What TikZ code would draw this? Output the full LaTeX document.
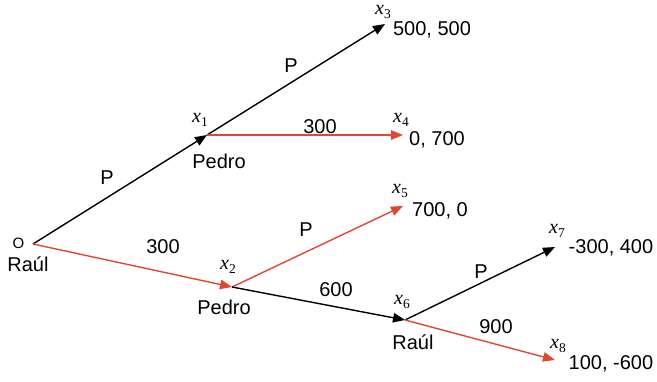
\documentclass[tikz,border=0pt]{standalone}
\usepackage{fontspec}
\setmainfont{Liberation Sans}
\newfontfamily\serifx{Liberation Serif}
\usetikzlibrary{arrows.meta}
\definecolor{tred}{RGB}{226,70,50}
\newcommand{\xlab}[1]{{\serifx\fontsize{20}{22}\selectfont\itshape x}\raisebox{-3.5pt}{\serifx\fontsize{13.5}{14}\selectfont #1}}
\begin{document}
\begin{tikzpicture}[x=1pt,y=-1pt,
  lbl/.style={inner sep=0pt,font=\fontsize{20}{22}\selectfont},
  small/.style={inner sep=0pt,font=\fontsize{15}{17}\selectfont},
  edge/.style={line width=1.4pt,-{Triangle[length=12pt,width=9.5pt]}},
  redge/.style={edge,draw=tred,-{Triangle[length=12pt,width=9.5pt,fill=tred]}},
  bedge/.style={edge,draw=black}]
\useasboundingbox (0,0) rectangle (657,381);
\coordinate (O) at (33,244);
\coordinate (x1) at (207,135);
\coordinate (x2) at (232,287);
\coordinate (x3) at (385,24);
\coordinate (x4) at (403,135);
\coordinate (x5) at (403,206);
\coordinate (x6) at (405,320);
\coordinate (x7) at (555,247);
\coordinate (x8) at (555,360);
\draw[bedge] (O) -- (x1);
\draw[redge] (O) -- (x2);
\draw[bedge] (x1) -- (x3);
\draw[redge] (x1) -- (x4);
\draw[redge] (x2) -- (x5);
\draw[bedge] (x2) -- (x6);
\draw[bedge] (x6) -- (x7);
\draw[redge] (x6) -- (x8);
\node[small] (lO) at (18.5,243) {O};
\node[lbl] (rO) at (28,264) {Raúl};
\node[lbl] (l1) at (200,120) {\xlab{1}};
\node[lbl] (p1) at (219,161) {Pedro};
\node[lbl] (l2) at (228,267) {\xlab{2}};
\node[lbl] (p2) at (224,307) {Pedro};
\node[lbl] (l3) at (383,12) {\xlab{3}};
\node[lbl] (v3) at (432,30) {500, 500};
\node[lbl] (l4) at (401,120) {\xlab{4}};
\node[lbl] (v4) at (437,140) {0, 700};
\node[lbl] (l5) at (400,191) {\xlab{5}};
\node[lbl] (v5) at (440,211) {700, 0};
\node[lbl] (l6) at (402,302) {\xlab{6}};
\node[lbl] (r6) at (413,342) {Raúl};
\node[lbl] (l7) at (557,231) {\xlab{7}};
\node[lbl] (v7) at (611,248) {-300, 400};
\node[lbl] (l8) at (558,346) {\xlab{8}};
\node[lbl] (v8) at (611,364) {100, -600};
\node[lbl] (e1) at (107,178) {P};
\node[lbl] (e2) at (291,66) {P};
\node[lbl] (e3) at (320,127) {300};
\node[lbl] (e4) at (163,247) {300};
\node[lbl] (e5) at (306,230) {P};
\node[lbl] (e6) at (336,290) {600};
\node[lbl] (e7) at (481,272) {P};
\node[lbl] (e8) at (496,327) {900};
\end{tikzpicture}
\end{document}
